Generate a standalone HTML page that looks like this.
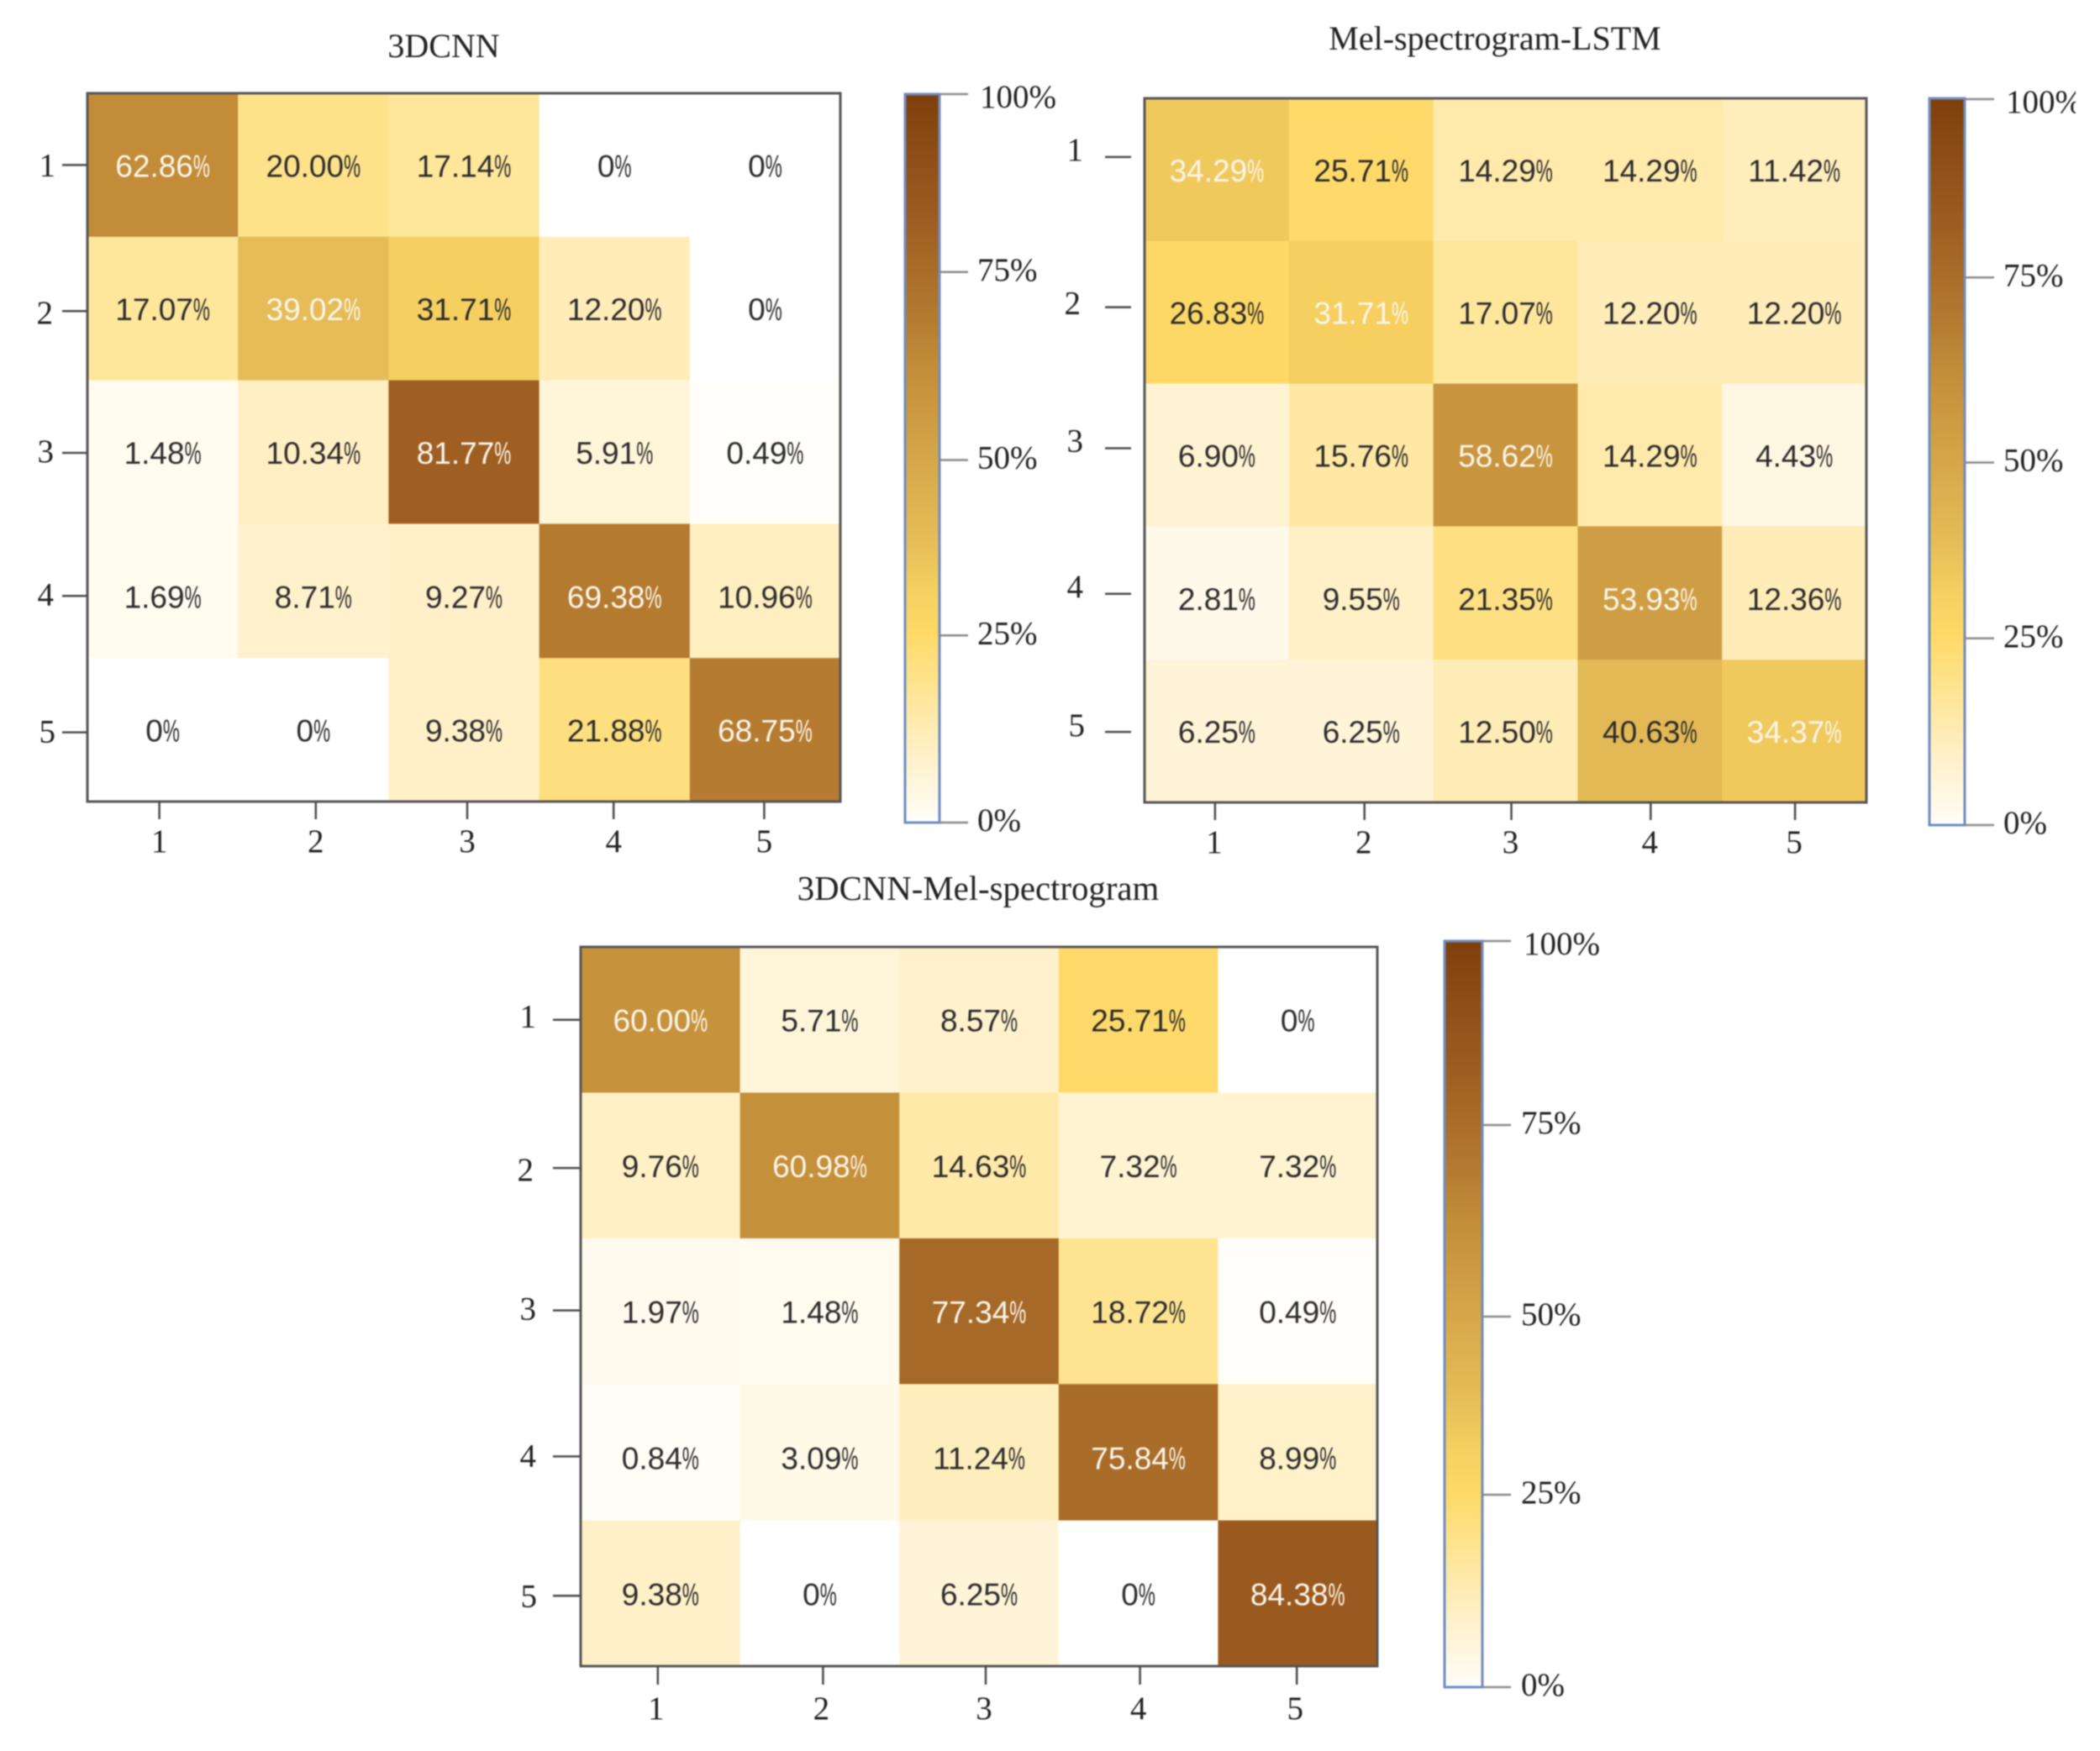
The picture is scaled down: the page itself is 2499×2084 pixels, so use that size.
<!DOCTYPE html>
<html lang="en">
<head>
<meta charset="utf-8">
<title>Confusion matrices</title>
<style>
  html, body { margin: 0; padding: 0; background: #fff; }
  svg { display: block; filter: blur(0.7px); }
  text { font-family: "Liberation Serif", serif; fill: #222; }
  .cell-text { font-family: "Liberation Sans", sans-serif; font-size: 37px; }
</style>
</head>
<body>
<svg id="chart" xmlns="http://www.w3.org/2000/svg" width="2499" height="2084" viewBox="0 0 2499 2084">
  <defs id="defs"></defs>
  <rect x="0" y="0" width="2499" height="2084" fill="#ffffff"></rect>
</svg>
<script>
// ---- data (percent values) ----
const categories = ['1', '2', '3', '4', '5'];
const colorbarTicks = [0, 25, 50, 75, 100];

const titles = ['3DCNN', 'Mel-spectrogram-LSTM', '3DCNN-Mel-spectrogram'];

const values3dcnn = [
  [62.86, 20.00, 17.14, 0, 0],
  [17.07, 39.02, 31.71, 12.20, 0],
  [1.48, 10.34, 81.77, 5.91, 0.49],
  [1.69, 8.71, 9.27, 69.38, 10.96],
  [0, 0, 9.38, 21.88, 68.75]
];
const valuesMelLstm = [
  [34.29, 25.71, 14.29, 14.29, 11.42],
  [26.83, 31.71, 17.07, 12.20, 12.20],
  [6.90, 15.76, 58.62, 14.29, 4.43],
  [2.81, 9.55, 21.35, 53.93, 12.36],
  [6.25, 6.25, 12.50, 40.63, 34.37]
];
const values3dcnnMel = [
  [60.00, 5.71, 8.57, 25.71, 0],
  [9.76, 60.98, 14.63, 7.32, 7.32],
  [1.97, 1.48, 77.34, 18.72, 0.49],
  [0.84, 3.09, 11.24, 75.84, 8.99],
  [9.38, 0, 6.25, 0, 84.38]
];
const panelValues = [values3dcnn, valuesMelLstm, values3dcnnMel];

// ---- colour scale ----
const scaleDomain = [0, 1.5, 9.4, 20, 26, 32, 39, 50, 62.86, 68.75, 81.77, 100];
const scaleColors = [
  [255, 255, 255], [255, 251, 239], [255, 240, 200], [254, 226, 138], [255, 217, 103], [245, 207, 96],
  [229, 188, 87], [213, 166, 73], [194, 140, 56], [181, 124, 49], [159, 95, 34], [127, 63, 11]
];

function colorFor(v) {
  const t = Math.max(0, Math.min(100, v));
  let i = 0;
  while (i < scaleDomain.length - 2 && t > scaleDomain[i + 1]) i++;
  const f = (t - scaleDomain[i]) / (scaleDomain[i + 1] - scaleDomain[i]);
  const c = scaleColors[i].map(function (a, k) { return Math.round(a + (scaleColors[i + 1][k] - a) * f); });
  return 'rgb(' + c.join(',') + ')';
}

// ---- layout (geometry only) ----
const rowWeights = [171, 171, 171, 160, 171];
const cellTextNudge = [1, 1, 1, 7, 1];
const layouts = [
  {
    key: 'top-left', left: 104, right: 1000, top: 111, bottom: 954,
    titleX: 528, titleY: 68, titleSize: 40,
    xTickNudge: [-4, 3, 4, -1, -1], xTickLen: 21, xLabelY: 1014, xLabelDx: 1,
    yTickNudge: [0, 3, 1, 6, 3], yLabelNudge: [0, 2, -2, -2, -1], yLabelDx: [5, 2, 3, 3, 5], yTickX1: 74, yTickX2: 104, yLabelX: 61,
    bar: { x1: 1077, x2: 1118, top: 112, bottom: 979, tickEnd: 1152, labelX: 1163, nudge: [0, -6, 2, -5, 0] }
  },
  {
    key: 'top-right', left: 1362, right: 2221, top: 117, bottom: 955,
    titleX: 1779, titleY: 59, titleSize: 40,
    xTickNudge: [-2, 4, 7, 1, 1], xTickLen: 21, xLabelY: 1015, xLabelDx: 0,
    yTickNudge: [-15, -6, -8, 1, 1], yLabelNudge: [-9, -5, -9, -9, -8], yLabelDx: [-5, -8, -5, -5, -3], yTickX1: 1315, yTickX2: 1346, yLabelX: 1294,
    bar: { x1: 2296, x2: 2338, top: 117, bottom: 982, tickEnd: 2373, labelX: 2384, nudge: [0, -6, 1, -3, 1] }
  },
  {
    key: 'bottom', left: 691, right: 1639, top: 1127, bottom: 1983,
    titleX: 1164, titleY: 1071, titleSize: 40.8,
    xTickNudge: [-3, 4, 8, 2, -1], xTickLen: 22, xLabelY: 2046, xLabelDx: -1,
    yTickNudge: [0, 3, -1, 5, 3], yLabelNudge: [-4, 2, -2, -1, 0], yLabelDx: [-3, -6, -3, -3, -2], yTickX1: 658, yTickX2: 691, yLabelX: 641,
    bar: { x1: 1719, x2: 1764, top: 1120, bottom: 2008, tickEnd: 1798, labelX: 1810, nudge: [0, -7, 3, -3, 0] }
  }
];

// ---- helpers ----
const NS = 'http://www.w3.org/2000/svg';
const svg = document.getElementById('chart');
const defs = document.getElementById('defs');

function make(tag, attrs, parent) {
  const n = document.createElementNS(NS, tag);
  for (const k in attrs) n.setAttribute(k, attrs[k]);
  (parent || svg).appendChild(n);
  return n;
}

function xBand(L, c) {
  const w = (L.right - L.left) / categories.length;
  return { start: L.left + c * w, size: w };
}

function yBand(L, r) {
  const total = rowWeights.reduce(function (a, b) { return a + b; }, 0);
  const unit = (L.bottom - L.top) / total;
  let acc = 0;
  for (let i = 0; i < r; i++) acc += rowWeights[i];
  return { start: L.top + acc * unit, size: rowWeights[r] * unit };
}

function formatValue(v) {
  return v === 0 ? '0' : v.toFixed(2);
}

function drawCellText(group, L, r, c, v) {
  const xb = xBand(L, c);
  const yb = yBand(L, r);
  const cx = xb.start + xb.size / 2;
  const cy = yb.start + yb.size / 2 + cellTextNudge[r];
  const t = make('text', { 'class': 'cell-text', y: cy + 13 }, group);
  
  
  t.style.fill = r === c ? '#fbf5ea' : '#2c2c2c';
  const num = make('tspan', {}, t);
  num.textContent = formatValue(v);
  const pct = make('tspan', { textLength: 20, lengthAdjust: 'spacingAndGlyphs' }, t);
  pct.textContent = '%';
  const w = num.getComputedTextLength();
  t.setAttribute('x', cx - (w + 20) / 2);
}

function drawPanel(L, idx) {
  const g = make('g', {});
  
  

  const title = make('text', { x: L.titleX, y: L.titleY, 'text-anchor': 'middle', 'font-size': L.titleSize }, g);
  
  
  title.textContent = titles[idx];

  const values = panelValues[idx];
  values.forEach(function (row, r) {
    row.forEach(function (v, c) {
      const xb = xBand(L, c);
      const yb = yBand(L, r);
      const cell = make('rect', { x: xb.start, y: yb.start, width: xb.size + 0.5, height: yb.size + 0.5, fill: colorFor(v) }, g);
      
      
    });
  });
  values.forEach(function (row, r) {
    row.forEach(function (v, c) { drawCellText(g, L, r, c, v); });
  });

  const frame = make('rect', { x: L.left, y: L.top, width: L.right - L.left, height: L.bottom - L.top, fill: 'none', stroke: '#555555', 'stroke-width': 3 }, g);
  
  

  categories.forEach(function (label, i) {
    const xb = xBand(L, i);
    const tx = xb.start + xb.size / 2 + L.xTickNudge[i];
    const xt = make('line', { x1: tx, x2: tx, y1: L.bottom, y2: L.bottom + L.xTickLen, stroke: '#4a4a4a', 'stroke-width': 2.5 }, g);
    
    
    const xl = make('text', { x: tx - 1 + L.xLabelDx, y: L.xLabelY, 'text-anchor': 'middle', 'font-size': 39 }, g);
    
    
    xl.textContent = label;

    const yb = yBand(L, i);
    const ty = yb.start + yb.size / 2 + L.yTickNudge[i];
    const yt = make('line', { x1: L.yTickX1, x2: L.yTickX2, y1: ty, y2: ty, stroke: '#4a4a4a', 'stroke-width': 2.5 }, g);
    
    
    const yl = make('text', { x: L.yLabelX + L.yLabelDx[i], y: ty + L.yLabelNudge[i] + 13, 'text-anchor': 'end', 'font-size': 39 }, g);
    
    
    yl.textContent = label;
  });

  drawColorbar(L, g);
}

function drawColorbar(L, parent) {
  const b = L.bar;
  const g = make('g', {}, parent);
  
  

  const gradId = 'grad-' + L.key;
  const grad = make('linearGradient', { id: gradId, x1: 0, y1: 1, x2: 0, y2: 0 }, defs);
  scaleDomain.forEach(function (d) {
    make('stop', { offset: (d / 100), 'stop-color': colorFor(d) }, grad);
  });

  const rect = make('rect', { x: b.x1, y: b.top, width: b.x2 - b.x1, height: b.bottom - b.top, fill: 'url(#' + gradId + ')', stroke: '#6f8cc0', 'stroke-width': 3 }, g);
  
  

  colorbarTicks.forEach(function (t, i) {
    const y = b.bottom - (t / 100) * (b.bottom - b.top) + b.nudge[i];
    const tick = make('line', { x1: b.x2, x2: b.tickEnd, y1: y, y2: y, stroke: '#8a8a8a', 'stroke-width': 2.5 }, g);
    
    
    const isTop = i === colorbarTicks.length - 1;
    const lbl = make('text', { x: b.labelX + (isTop ? 3 : 0), y: y + (isTop ? 3 : -3) + 13, 'font-size': 39 }, g);
    
    
    lbl.textContent = t + '%';
  });
}

layouts.forEach(drawPanel);

const mask = make('rect', { x: 2470, y: 0, width: 29, height: 2084, fill: '#ffffff' });


</script>
</body>
</html>
